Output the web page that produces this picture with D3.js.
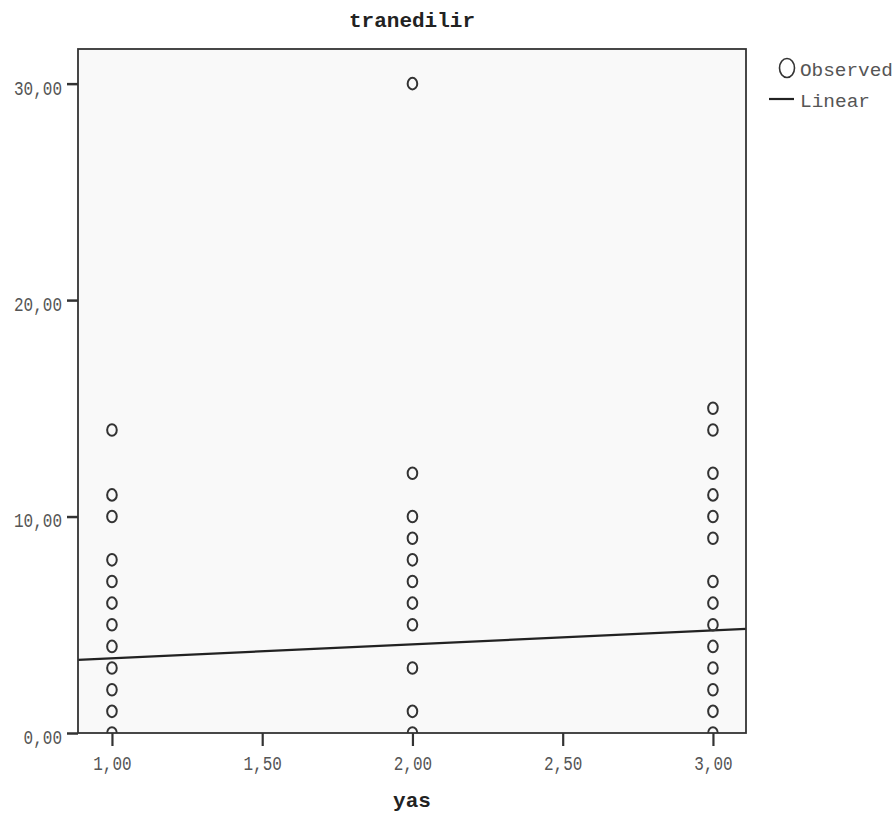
<!DOCTYPE html>
<html lang="en">
  <head>
    <meta charset="UTF-8" />
    <title>tranedilir</title>
    <script src="https://d3js.org/d3.v7.min.js"></script>
    <style>
      body { margin: 0; background: #fff; }
      text { font-family: "Liberation Mono", "DejaVu Sans Mono", monospace; }
    </style>
  </head>
  <body>
    <svg width="896" height="823"></svg>
    <script>
      // observed values, one list per yas group
      var yasGroups = [1, 2, 3];
      var observed1 = [14, 11, 10, 8, 7, 6, 5, 4, 3, 2, 1, 0];
      var observed2 = [30, 12, 10, 9, 8, 7, 6, 5, 3, 1, 0];
      var observed3 = [15, 14, 12, 11, 10, 9, 7, 6, 5, 4, 3, 2, 1, 0];
      // linear fit (at plot edges)
      var linearX = [0.887, 3.11];
      var linearY = [3.38, 4.81];
      var xTicks = [1, 1.5, 2, 2.5, 3];
      var yTicks = [0, 10, 20, 30];

      var svg = d3.select("svg");
      var m = { left: 78, right: 746, top: 49, bottom: 733 };
      var sx = 0.8; // labels are narrow and tall in the original

      var x = d3.scaleLinear().domain([0.887, 3.11]).range([m.left, m.right]);
      var y = d3.scaleLinear().domain([0, 31.6]).range([m.bottom, m.top]);
      var fmt = d => d3.format(".2f")(d).replace(".", ",");

      // plot background
      svg.append("rect")
        .attr("x", m.left).attr("y", m.top)
        .attr("width", m.right - m.left).attr("height", m.bottom - m.top)
        .style("fill", "#f9f9f9");

      var points = [];
      [observed1, observed2, observed3].forEach((arr, i) => {
        arr.forEach(v => points.push({ x: yasGroups[i], y: v }));
      });

      // fit line
      var line = d3.line().x(d => x(d[0])).y(d => y(d[1]));
      svg.append("path")
        .datum(d3.zip(linearX, linearY))
        .attr("d", line)
        .style("fill", "none")
        .style("stroke", "#222")
        .attr("stroke-width", 2.2);

      // clip markers to plot area (0 points are cut at the axis)
      svg.append("clipPath").attr("id", "plot")
        .append("rect")
        .attr("x", m.left).attr("y", m.top)
        .attr("width", m.right - m.left).attr("height", m.bottom - m.top);

      svg.append("g").attr("clip-path", "url(#plot)")
        .selectAll("ellipse")
        .data(points)
        .join("ellipse")
        .attr("cx", d => x(d.x))
        .attr("cy", d => y(d.y))
        .attr("rx", 4.8)
        .attr("ry", 5.8)
        .style("fill", "none")
        .style("stroke", "#333")
        .attr("stroke-width", 2);

      // frame
      svg.append("rect")
        .attr("x", m.left).attr("y", m.top)
        .attr("width", m.right - m.left).attr("height", m.bottom - m.top)
        .style("fill", "none")
        .style("stroke", "#333")
        .attr("stroke-width", 1.8);

      // x axis
      var xAxis = svg.append("g").attr("transform", "translate(0," + m.bottom + ")")
        .call(d3.axisBottom(x).tickValues(xTicks).tickFormat(fmt).tickSize(13).tickSizeOuter(0));
      xAxis.select(".domain").remove();
      xAxis.selectAll("line").style("stroke", "#333").attr("stroke-width", 2.2);
      xAxis.selectAll("text")
        .attr("y", 23)
        .attr("transform", "scale(" + sx + ",1)")
        .style("font-size", "20px")
        .style("fill", "#555");

      // y axis
      var yAxis = svg.append("g").attr("transform", "translate(" + m.left + ",0)")
        .call(d3.axisLeft(y).tickValues(yTicks).tickFormat(fmt).tickSize(11).tickSizeOuter(0));
      yAxis.select(".domain").remove();
      yAxis.selectAll("line").style("stroke", "#333").attr("stroke-width", 2.5);
      yAxis.selectAll("text")
        .attr("x", -16 / sx)
        .attr("y", 4)
        .attr("transform", "scale(" + sx + ",1)")
        .style("font-size", "20px")
        .style("fill", "#555");

      // titles
      svg.append("text")
        .attr("x", (m.left + m.right) / 2).attr("y", 27)
        .attr("text-anchor", "middle")
        .style("font-size", "21px").style("font-weight", "bold")
        .style("fill", "#222")
        .text("tranedilir");

      svg.append("text")
        .attr("x", (m.left + m.right) / 2).attr("y", 807)
        .attr("text-anchor", "middle")
        .style("font-size", "21px").style("font-weight", "bold")
        .style("fill", "#222")
        .text("yas");

      // legend
      var legend = svg.append("g");
      legend.append("ellipse")
        .attr("cx", 787).attr("cy", 68)
        .attr("rx", 7.5).attr("ry", 9.5)
        .style("fill", "none").style("stroke", "#333").attr("stroke-width", 1.6);
      legend.append("text")
        .attr("x", 800).attr("y", 76)
        .attr("textLength", 93).attr("lengthAdjust", "spacingAndGlyphs")
        .style("font-size", "19px").style("fill", "#555")
        .text("Observed");
      legend.append("line")
        .attr("x1", 769).attr("x2", 794).attr("y1", 99).attr("y2", 99)
        .style("stroke", "#222").attr("stroke-width", 2.2);
      legend.append("text")
        .attr("x", 800).attr("y", 107)
        .attr("textLength", 70).attr("lengthAdjust", "spacingAndGlyphs")
        .style("font-size", "19px").style("fill", "#555")
        .text("Linear");
    </script>
  </body>
</html>
